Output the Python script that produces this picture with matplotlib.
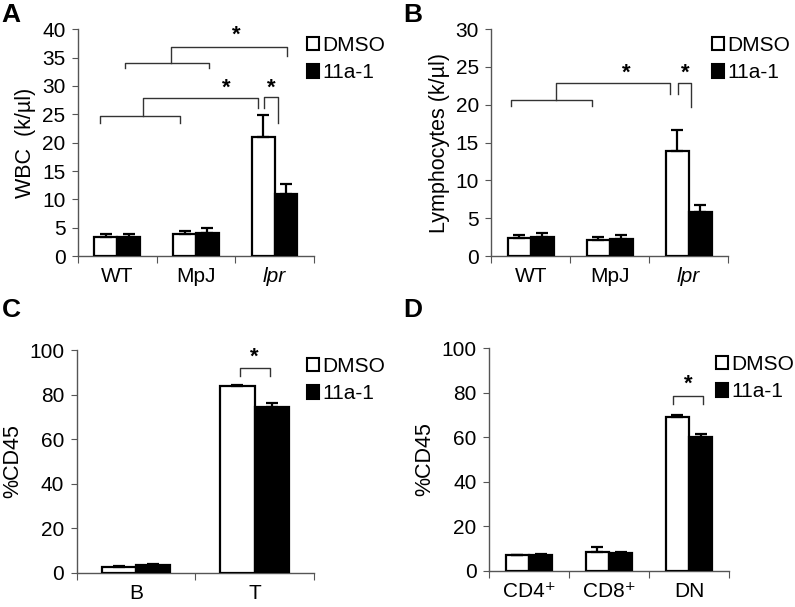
import numpy as np
import matplotlib
matplotlib.use("Agg")
import matplotlib.pyplot as plt
from matplotlib.patches import Patch

plt.rcParams['font.family'] = ['Liberation Sans', 'DejaVu Sans']
plt.rcParams['font.size'] = 15

# ---- data ----
groups_ab = ['WT', 'MpJ', 'lpr']
wbc_dmso = [3.4, 3.9, 21.0]
wbc_dmso_err = [0.5, 0.6, 3.9]
wbc_11a1 = [3.3, 4.1, 10.9]
wbc_11a1_err = [0.6, 0.8, 1.8]

lym_dmso = [2.4, 2.2, 13.9]
lym_dmso_err = [0.4, 0.3, 2.8]
lym_11a1 = [2.5, 2.3, 5.8]
lym_11a1_err = [0.6, 0.5, 1.0]

groups_c = ['B', 'T']
bt_dmso = [2.7, 83.8]
bt_dmso_err = [0.4, 0.5]
bt_11a1 = [3.3, 74.5]
bt_11a1_err = [0.4, 2.0]

groups_d = ['CD4\u207a', 'CD8\u207a', 'DN']
sub_dmso = [6.9, 8.4, 69.0]
sub_dmso_err = [0.3, 2.1, 1.2]
sub_11a1 = [7.0, 8.1, 60.3]
sub_11a1_err = [0.3, 0.4, 1.2]

series_names = ['DMSO', '11a-1']

BW = 0.29
LINE = '#555555'
BRK = '#333333'


def bar_panel(ax, groups, dmso, dmso_err, drug, drug_err, ymax, ystep, ylabel, leg_x):
    x = np.arange(len(groups))
    ekw = dict(elinewidth=1.6, capthick=1.6, ecolor='black')
    ax.bar(x - BW / 2, dmso, BW, color='white', edgecolor='black', linewidth=1.6,
           yerr=[np.zeros(len(x)), dmso_err], capsize=4, error_kw=ekw, zorder=3)
    ax.bar(x + BW / 2, drug, BW, color='black', edgecolor='black', linewidth=1.6,
           yerr=[np.zeros(len(x)), drug_err], capsize=4, error_kw=ekw, zorder=3)
    ax.set_xlim(-0.5, len(groups) - 0.5)
    ax.set_ylim(0, ymax)
    ax.set_yticks(np.arange(0, ymax + 0.1, ystep))
    ax.set_xticks(np.arange(-0.5, len(groups), 1.0))
    ax.set_xticklabels([])
    ax.set_xticks(x, minor=True)
    ax.set_xticklabels(groups, minor=True)
    ax.tick_params(axis='x', which='minor', length=0, pad=8)
    ax.tick_params(axis='x', which='major', length=5, color=LINE, direction='out')
    ax.tick_params(axis='y', length=4, color=LINE, direction='out', pad=5)
    for s in ['top', 'right']:
        ax.spines[s].set_visible(False)
    for s in ['left', 'bottom']:
        ax.spines[s].set_color(LINE)
        ax.spines[s].set_linewidth(1.0)
    ax.set_ylabel(ylabel, labelpad=4, fontsize=15.5)
    handles = [Patch(facecolor='white', edgecolor='black', linewidth=1.5),
               Patch(facecolor='black', edgecolor='black', linewidth=1.5)]
    ax.legend(handles, series_names, loc='upper left', bbox_to_anchor=(leg_x, 0.97),
              frameon=False, handlelength=0.6, handleheight=0.6, handletextpad=0.15,
              labelspacing=0.4, fontsize=15, borderaxespad=0, borderpad=0)


def bracket(ax, x0, x1, y, drop0, drop1, lw=1.0):
    ax.plot([x0, x0, x1, x1], [y - drop0, y, y, y - drop1], color=BRK,
            lw=lw, clip_on=False, zorder=4)


def star(ax, x, y):
    ax.text(x, y, '*', ha='center', va='center', fontsize=16, fontweight='bold')


fig = plt.figure(figsize=(7.95, 6.07), dpi=100)
axA = fig.add_axes([0.098, 0.578, 0.297, 0.374])
axB = fig.add_axes([0.618, 0.578, 0.298, 0.374])
axC = fig.add_axes([0.0965, 0.0565, 0.2985, 0.3665])
axD = fig.add_axes([0.615, 0.0598, 0.302, 0.3662])

bar_panel(axA, groups_ab, wbc_dmso, wbc_dmso_err, wbc_11a1, wbc_11a1_err,
          40, 5, 'WBC  (k/\u00b5l)', 0.97)
bar_panel(axB, groups_ab, lym_dmso, lym_dmso_err, lym_11a1, lym_11a1_err,
          30, 5, 'Lymphocytes (k/\u00b5l)', 0.93)
bar_panel(axC, groups_c, bt_dmso, bt_dmso_err, bt_11a1, bt_11a1_err,
          100, 20, '%CD45', 0.97)
bar_panel(axD, groups_d, sub_dmso, sub_dmso_err, sub_11a1, sub_11a1_err,
          100, 20, '%CD45', 0.945)

for ax in (axA, axB):
    for lbl in ax.get_xticklabels(minor=True):
        if lbl.get_text() == 'lpr':
            lbl.set_style('italic')

# significance brackets, panel A
bracket(axA, -0.22, 0.80, 24.7, 1.2, 1.2)
axA.plot([0.33, 0.33, 1.79, 1.79], [24.7, 27.9, 27.9, 26.1], color=BRK, lw=1.0, zorder=4)
bracket(axA, 1.87, 2.04, 28.1, 2.0, 4.7)
bracket(axA, 0.10, 1.16, 34.1, 0.9, 0.9)
axA.plot([0.68, 0.68, 2.16, 2.16], [34.1, 36.8, 36.8, 35.3], color=BRK, lw=1.0, zorder=4)
star(axA, 1.39, 29.6)
star(axA, 1.96, 29.6)
star(axA, 1.51, 38.9)

# panel B
bracket(axB, -0.25, 0.78, 20.6, 0.8, 0.8)
axB.plot([0.32, 0.32, 1.76, 1.76], [20.6, 22.85, 22.85, 21.4], color=BRK, lw=1.0, zorder=4)
bracket(axB, 1.86, 2.03, 22.85, 1.45, 3.15)
star(axB, 1.21, 24.2)
star(axB, 1.96, 24.2)

# panel C
bracket(axC, 0.88, 1.13, 92.1, 3.8, 3.8)
star(axC, 1.0, 97.0)

# panel D
bracket(axD, 1.80, 2.17, 78.7, 3.7, 3.7)
star(axD, 1.995, 83.8)

for lab, (px, py) in zip('ABCD', [(0.002, 0.975), (0.507, 0.975), (0.002, 0.49), (0.507, 0.49)]):
    fig.text(px, py, lab, fontsize=19, fontweight='bold', ha='left', va='center')

fig.savefig('out.png', dpi=100)
